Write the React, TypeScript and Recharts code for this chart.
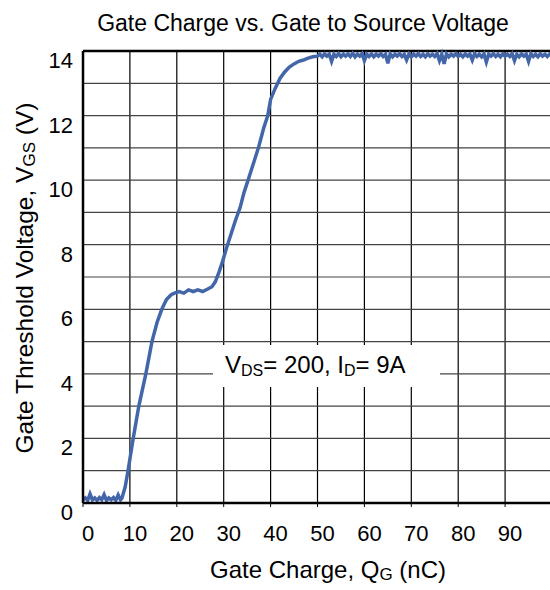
import React from "react";
import {
  LineChart,
  Line,
  XAxis,
  YAxis,
  CartesianGrid,
  ReferenceLine,
} from "recharts";

// gate charge (nC) and gate-source voltage (V)
const charge = [
  0, 0.5, 1, 1.5, 2, 2.5, 3, 3.5, 4, 4.5, 5, 5.5, 6, 6.5, 7, 7.5, 8, 8.3,
  9, 9.6, 10.7, 11.9, 13.4, 14.7, 15.8, 16.8, 17.8, 18.8, 19.5, 20.5, 21.5,
  22.5, 23.5, 24.5, 25.5, 26.5, 27.5, 28.2, 29, 29.8, 30.6, 31.5, 32.5, 33.5,
  34.3, 35.2, 36.3, 37.4, 38.5, 39.4, 40, 41, 42, 43, 44, 45, 46, 47, 48, 49,
  50, 50.5, 51, 51.5, 52, 52.5, 53, 53.5, 54, 54.5, 55, 55.5, 56, 56.5, 57,
  57.5, 58, 58.5, 59, 59.5, 60, 60.5, 61, 61.5, 62, 62.5, 63, 63.5, 64, 64.5,
  65, 65.5, 66, 66.5, 67, 67.5, 68, 68.5, 69, 69.5, 70, 70.5, 71, 71.5, 72,
  72.5, 73, 73.5, 74, 74.5, 75, 75.5, 76, 76.5, 77, 77.5, 78, 78.5, 79, 79.5,
  80, 80.5, 81, 81.5, 82, 82.5, 83, 83.5, 84, 84.5, 85, 85.5, 86, 86.5, 87,
  87.5, 88, 88.5, 89, 89.5, 90, 90.5, 91, 91.5, 92, 92.5, 93, 93.5, 94, 94.5,
  95, 95.5, 96, 96.5, 97, 97.5, 98, 98.5, 99, 99.5, 100,
];

const vgs = [
  0.1, 0.16, 0.08, 0.28, 0.1, 0.16, 0.08, 0.17, 0.1, 0.26, 0.08, 0.16, 0.1,
  0.17, 0.08, 0.25, 0.1, 0.15,
  0.5, 1.0, 2.0, 3.0, 4.0, 5.0, 5.6, 6.0, 6.3, 6.45, 6.5, 6.55, 6.5,
  6.6, 6.55, 6.6, 6.55, 6.62, 6.7, 6.85, 7.15, 7.5, 7.9, 8.3, 8.75, 9.15,
  9.6, 10.0, 10.5, 11.0, 11.6, 12.0, 12.5, 12.85, 13.15, 13.35, 13.5, 13.6,
  13.68, 13.72, 13.78, 13.82,
  13.84, 13.9, 13.82, 13.91, 13.84, 13.9, 13.68, 13.9, 13.83, 13.92, 13.82,
  13.9, 13.84, 13.91, 13.83, 13.93, 13.82, 13.9, 13.84, 13.92, 13.7, 13.9,
  13.83, 13.91, 13.82, 13.9, 13.84, 13.92, 13.83, 13.9, 13.62, 13.91, 13.82,
  13.9, 13.84, 13.92, 13.83, 13.9, 13.72, 13.91, 13.82, 13.9, 13.84, 13.92,
  13.83, 13.9, 13.82, 13.91, 13.84, 13.9, 13.83, 13.92, 13.7, 13.9, 13.6,
  13.91, 13.82, 13.9, 13.84, 13.92, 13.83, 13.9, 13.82, 13.91, 13.84, 13.9,
  13.72, 13.92, 13.83, 13.9, 13.82, 13.91, 13.66, 13.9, 13.84, 13.92, 13.83,
  13.9, 13.82, 13.91, 13.84, 13.9, 13.83, 13.92, 13.7, 13.9, 13.82, 13.91,
  13.84, 13.9, 13.68, 13.92, 13.83, 13.9, 13.82, 13.91, 13.84, 13.9, 13.83,
  13.9, 13.85,
];

const xTicks = [0, 10, 20, 30, 40, 50, 60, 70, 80, 90];
const yTicks = [0, 1, 2, 3, 4, 5, 6, 7, 8, 9, 10, 11, 12, 13, 14];

const data = charge.map((q, i) => ({ q, v: vgs[i] }));

const FONT = "'Liberation Sans', Arial, sans-serif";

function XTick(props: any) {
  const { x, y, payload } = props;
  return (
    <text
      x={x + 5}
      y={y}
      dy="0.72em"
      textAnchor="middle"
      fontSize={22}
      fontFamily={FONT}
      fill="#000"
    >
      {payload.value}
    </text>
  );
}

function YTick(props: any) {
  const { x, y, payload } = props;
  // only even volts are labelled, odd ones just get a grid line
  if (payload.value % 2 !== 0) return <g />;
  return (
    <text
      x={x}
      y={y + 17}
      textAnchor="end"
      fontSize={22}
      fontFamily={FONT}
      fill="#000"
    >
      {payload.value}
    </text>
  );
}

export default function App() {
  return (
    <div
      style={{
        position: "absolute",
        left: 0,
        top: 0,
        width: 550,
        height: 590,
        overflow: "hidden",
        background: "#fff",
        fontFamily: FONT,
      }}
    >
      <LineChart
        width={552}
        height={590}
        data={data}
        margin={{ top: 51, right: 0, bottom: 0, left: 0 }}
      >
        <CartesianGrid
          horizontal={false}
          stroke="#000"
          strokeWidth={1.2}
        />
        <CartesianGrid vertical={false} stroke="#444" strokeWidth={1.2} />
        <XAxis
          type="number"
          dataKey="q"
          domain={[0, 100]}
          ticks={xTicks}
          height={87}
          tick={<XTick />}
          tickSize={4}
          tickMargin={18}
          axisLine={{ stroke: "#000", strokeWidth: 2.5 }}
          tickLine={{ stroke: "#000" }}
        />
        <YAxis
          type="number"
          domain={[0, 14]}
          ticks={yTicks}
          width={83}
          tick={<YTick />}
          tickSize={0}
          tickMargin={10}
          interval={0}
          axisLine={{ stroke: "#000", strokeWidth: 2.5 }}
          tickLine={false}
        />
        <ReferenceLine y={14} stroke="#000" strokeWidth={2.5} />
        <Line
          type="linear"
          dataKey="v"
          stroke="#4366A8"
          strokeWidth={3.5}
          dot={false}
          isAnimationActive={false}
        />
      </LineChart>

      <svg
        width={550}
        height={590}
        style={{ position: "absolute", left: 0, top: 0, pointerEvents: "none" }}
        fontFamily={FONT}
      >
        <text x={303} y={31} textAnchor="middle" fontSize={23} fill="#000">
          Gate Charge vs. Gate to Source Voltage
        </text>
        <rect x={213} y={345} width={227} height={42} fill="#fff" />
        <text x={225} y={373} fontSize={24} fill="#000">
          V<tspan fontSize={16} dy={3}>DS</tspan>
          <tspan dy={-3}>= 200, I</tspan>
          <tspan fontSize={16} dy={3}>D</tspan>
          <tspan dy={-3}>= 9A</tspan>
        </text>
        <text x={328} y={578} textAnchor="middle" fontSize={24} fill="#000">
          Gate Charge, Q<tspan fontSize={17} dy={2}>G</tspan>
          <tspan dy={-2}> (nC)</tspan>
        </text>
        <text
          transform="translate(33, 278) rotate(-90)"
          textAnchor="middle"
          fontSize={24.5}
          fill="#000"
        >
          Gate Threshold Voltage, V<tspan fontSize={17} dy={2}>GS</tspan>
          <tspan dy={-2}> (V)</tspan>
        </text>
      </svg>
    </div>
  );
}
